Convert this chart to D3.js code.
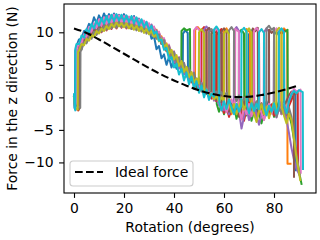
<!DOCTYPE html>
<html>
<head>
<meta charset="utf-8">
<script src="https://cdn.jsdelivr.net/npm/d3@7"></script>
<style>
  body { margin: 0; background: #fff; }
  svg { display: block; font-family: 'DejaVu Sans', sans-serif; }
</style>
</head>
<body>
<svg id="chart" width="320" height="240"></svg>
<script>
// measured trials: [rotation in degrees, force in N]
var trial1 = [[0,0.3],[0.2,-1.6],[0.4,-1.8],[0.5,7.2],[1,7.9],[2,8.9],[3,9.0],[4,10.2],[5,10.3],[6,11.3],[7,10.9],[8,12.3],[9,11.4],[10,12.6],[11,11.8],[12,12.9],[13,12.0],[14,12.8],[15,11.9],[16,12.9],[17,12.1],[18,12.7],[19,11.7],[20,12.8],[21,11.9],[22,12.4],[23,11.5],[24,12.5],[25,11.3],[26,12.1],[27,10.8],[28,11.6],[29,10.2],[30,10.6],[31,9.0],[32,9.4],[33,7.4],[34,7.9],[35,6.0],[36,6.6],[37,5.0],[38,6.2],[39,4.6],[40,5.8],[41,4.4],[42,5.2],[43,4.2],[43.5,4.4],[43.6,9.8],[44.5,10.3],[45.5,9.9],[45.6,3.4],[47,2.8],[48,3.3],[49,2.0],[50,2.2],[51,1.2],[52,1.5],[53,0.6],[54,0.9],[55,0.1],[56,0.4],[56.9,-0.5],[57,9.6],[58,10.2],[59,9.8],[59.1,-1.0],[60,-2.1],[61,-1.2],[62,-2.8],[63,-1.6],[64,-0.8],[65,-2.3],[66,-1.4],[67,-3.0],[68,-1.8],[69,-0.9],[69.9,-1.5],[70,9.7],[71,10.3],[72,9.9],[72.1,-1.2],[73,-2.4],[74,-1.0],[75,-2.9],[76,-1.7],[77,-0.6],[78,-2.0],[79,-1.1],[79.9,-1.9],[80,9.6],[81,10.1],[82,9.5],[82.1,-1.4],[83,-2.5],[84,-1.2],[85,-2.2],[86,-0.8],[87,0.4],[88,1.0],[88.6,0.6],[88.7,-11.2]];
var trial2 = [[0,0.2],[0.3,-1.2],[1.4,-1.7],[1.5,7.0],[2,7.4],[3,8.8],[4,8.6],[5,9.9],[6,9.5],[7,10.8],[8,10.0],[9,11.3],[10,10.4],[11,11.7],[12,10.8],[13,12.0],[14,11.0],[15,12.2],[16,11.2],[17,12.3],[18,11.3],[19,12.4],[20,11.4],[21,12.2],[22,11.1],[23,12.1],[24,11.0],[25,11.9],[26,10.7],[27,11.6],[28,10.5],[29,11.4],[30,10.2],[31,11.1],[32,9.8],[33,10.4],[34,8.9],[35,9.4],[36,7.8],[37,8.3],[38,6.6],[39,7.2],[40,5.5],[41,6.1],[42,4.5],[43,5.4],[44,3.8],[45,4.6],[46,3.0],[47,3.8],[48,2.5],[48.4,2.7],[48.5,10.4],[49.5,10.8],[50.8,10.2],[50.9,1.6],[52,1.0],[53,1.3],[54,0.5],[55,0.8],[56,-0.2],[57,0.3],[58,-0.8],[59,-0.2],[59.9,-1.0],[60,10.1],[61,10.6],[62,9.9],[62.1,-1.5],[63,-2.6],[64,-1.1],[65,-2.0],[66,-0.6],[67,-1.8],[68,-2.9],[68.9,-1.4],[69,10.5],[70.4,10.0],[70.5,-1.2],[71,-2.4],[72,-1.6],[73,-3.2],[74,-2.0],[75,-0.9],[76,-2.2],[77,-1.3],[78,-2.7],[79,-1.5],[80,-0.7],[81,-1.9],[82,-1.0],[82.9,-1.6],[83,10.2],[84,10.6],[85.3,10.0],[85.4,-10.2],[86.6,-10.2]];
var trial3 = [[0,0],[0.4,-1.0],[1.9,-1.9],[2,7.2],[3,7.6],[4,8.9],[5,8.7],[6,10.0],[7,9.5],[8,10.8],[9,9.9],[10,11.2],[11,10.2],[12,11.6],[13,10.6],[14,11.9],[15,10.8],[16,12.1],[17,10.9],[18,12.2],[19,11.0],[20,12.0],[21,10.8],[22,12.1],[23,10.8],[24,11.9],[25,10.6],[26,11.7],[27,10.4],[28,11.5],[29,10.2],[30,11.3],[31,9.9],[32,10.8],[33,9.3],[34,9.9],[35,8.3],[36,8.9],[37,7.2],[38,7.8],[39,6.1],[40,6.8],[41,5.1],[42,5.8],[42.9,4.7],[43,10.2],[44,10.6],[45,10.3],[46.4,10.5],[46.5,3.4],[47,3.0],[48,2.2],[49,2.5],[50,1.4],[51,1.7],[52,0.7],[53,1.0],[54,0.0],[54.9,0.4],[55,9.8],[56,10.3],[57,9.9],[57.1,-1.0],[58,-2.2],[59,-1.0],[60,-2.6],[61,-1.3],[62,-0.5],[63,-2.0],[64,-1.1],[65,-3.3],[65.9,-1.8],[66,9.9],[67,10.4],[68,9.8],[68.1,-1.6],[69,-2.8],[70,-1.4],[71,-3.6],[72,-2.1],[73,-0.9],[74,-2.5],[75,-4.0],[76,-2.2],[77,-1.0],[78,-2.4],[79,-1.2],[80,-3.0],[81,-1.7],[82,-0.6],[83,-1.9],[83.9,-1.2],[84,10.0],[85.4,10.4],[85.5,-1.5],[86,-2.6],[87,-4.1],[88,-6.5],[89,-9.0],[90,-11.4],[91,-13.3]];
var trial4 = [[0,0.1],[0.5,-1.3],[1.7,-2.0],[1.8,7.3],[2,7.8],[3,7.8],[4,9.0],[5,8.6],[6,10.0],[7,9.4],[8,10.7],[9,9.7],[10,11.0],[11,10.0],[12,11.3],[13,10.3],[14,11.6],[15,10.5],[16,11.7],[17,10.6],[18,11.9],[19,10.7],[20,11.8],[21,10.6],[22,11.7],[23,10.5],[24,11.6],[25,10.4],[26,11.5],[27,10.2],[28,11.3],[29,10.0],[30,11.0],[31,9.7],[32,10.6],[33,9.1],[34,9.8],[35,8.2],[36,8.8],[37,7.1],[38,7.7],[39,6.0],[40,6.6],[41,4.9],[42,5.6],[43,4.0],[44,4.7],[45,3.2],[46,3.9],[47,2.3],[48,3.3],[49,1.5],[50,2.5],[50.9,1.3],[51,10.3],[52,10.8],[53,10.2],[53.1,0.5],[54,0.8],[55,-0.2],[56,0.3],[56.9,-0.6],[57,10.6],[58,10.1],[59,10.5],[59.1,-1.3],[60,-2.4],[61,-1.2],[62,-3.0],[63,-1.8],[64,-0.7],[65,-2.1],[66,-1.0],[67,-2.6],[68,-3.6],[69,-1.9],[70,-0.8],[71,-2.3],[71.9,-1.1],[72,10.0],[73,10.5],[74,9.9],[74.1,-1.4],[75,-2.5],[76,-3.4],[77,-1.6],[78,-2.6],[79,-1.1],[80,-2.8],[81,-1.3],[81.9,-2.0],[82,10.2],[83,9.8],[84,10.3],[84.1,-1.6],[85,-2.8],[86,-1.3],[87,-0.4],[88,0.5],[89.5,0.7],[89.6,-11.0]];
var trial5 = [[0,0.4],[0.3,-1.1],[1.1,-1.8],[1.2,7.1],[2,7.4],[3,8.9],[4,8.5],[5,10.0],[6,9.5],[7,11.0],[8,10.0],[9,11.5],[10,10.4],[11,11.9],[12,10.8],[13,12.3],[14,11.1],[15,12.6],[16,11.3],[17,12.7],[18,11.4],[19,12.6],[20,11.3],[21,12.5],[22,11.2],[23,12.4],[24,11.0],[25,12.2],[26,10.8],[27,11.9],[28,10.5],[29,11.6],[30,10.2],[31,11.2],[32,9.7],[33,10.3],[34,8.7],[35,9.2],[36,7.5],[37,8.0],[38,6.4],[39,7.0],[40,5.3],[41,6.0],[42,4.4],[43,5.2],[44,3.5],[45,4.4],[46,2.6],[47,3.6],[48,1.9],[49,2.9],[50,1.1],[51,2.2],[51.9,0.9],[52,10.4],[53,10.9],[54,10.3],[54.1,0.3],[55,0.6],[56,-0.5],[57,0.0],[58,-1.2],[59,-0.4],[60,-2.0],[61,-1.0],[62,-2.6],[63,-1.4],[63.9,-2.2],[64,10.3],[65,10.8],[66,10.2],[66.1,-2.4],[67,-4.8],[68,-3.0],[69,-1.6],[70,-3.5],[71,-2.2],[72,-1.0],[73,-2.7],[74,-4.2],[75,-2.6],[75.9,-1.3],[76,10.0],[77,10.6],[78,10.1],[78.1,-1.2],[79,-2.4],[80,-1.1],[81,-3.1],[82,-1.8],[83,-0.7],[84,-2.0],[85,-3.4],[86,-5.5],[87,-7.8],[88,-9.6],[89,-11.0],[90.3,-12.0]];
var trial6 = [[0,0],[0.5,-1.4],[2.2,-1.7],[2.3,7.0],[3,7.4],[4,8.8],[5,8.5],[6,9.8],[7,9.3],[8,10.5],[9,9.9],[10,11.0],[11,10.4],[12,11.4],[13,10.7],[14,11.8],[15,10.9],[16,12.0],[17,11.0],[18,12.1],[19,11.1],[20,12.0],[21,10.9],[22,11.9],[23,10.8],[24,11.8],[25,10.6],[26,11.6],[27,10.4],[28,11.4],[29,10.1],[30,11.1],[31,9.8],[32,10.7],[33,9.2],[34,9.9],[35,8.3],[36,9.0],[37,7.3],[38,7.9],[39,6.2],[40,6.9],[41,5.2],[42,5.9],[43,4.2],[44,5.0],[45,3.3],[46,4.2],[47,2.4],[48,3.4],[49,1.6],[50,2.7],[51,0.9],[52,1.9],[52.9,0.7],[53,10.2],[54,10.7],[55,10.1],[55.1,0.2],[56,0.5],[57,-0.4],[58,0.1],[58.9,-0.8],[59,10.1],[60,10.6],[61,10.0],[61.1,-1.2],[62,-2.2],[63,-0.9],[64,-2.4],[65,-1.3],[66,-3.0],[67,-1.6],[68,-0.6],[69,-2.0],[70,-1.1],[71,-2.7],[71.4,-1.6],[71.5,10.6],[72.5,10.2],[73.5,10.7],[73.6,-1.5],[74,-2.6],[75,-1.2],[76,-3.1],[77,-1.8],[77.9,-1.0],[78,10.4],[79,9.9],[80,10.3],[80.1,-1.3],[81,-2.4],[82,-1.1],[83,-2.6],[84,-1.4],[85,-0.5],[86,0.3],[87,0.9],[87.9,0.6],[88,-12.2]];
var trial7 = [[0,0.3],[0.4,-1.5],[0.9,-1.9],[1,7.4],[2,8.4],[3,8.3],[4,9.7],[5,9.3],[6,10.8],[7,10.1],[8,11.4],[9,10.7],[10,12.0],[11,11.0],[12,12.3],[13,11.2],[14,12.5],[15,11.4],[16,12.7],[17,11.5],[18,12.6],[19,11.4],[20,12.5],[21,11.3],[22,12.4],[23,11.1],[24,12.3],[25,10.9],[26,12.0],[27,10.7],[28,11.8],[29,10.4],[30,11.4],[31,10.0],[32,10.9],[33,9.4],[34,10.1],[35,8.5],[36,9.1],[37,7.5],[38,8.1],[39,6.3],[40,7.1],[41,5.3],[42,6.2],[43,4.4],[44,5.3],[45,3.5],[46,4.4],[47,2.7],[47.9,3.2],[48,10.3],[49,10.8],[50.4,10.2],[50.5,1.6],[51,1.9],[52,1.0],[53,1.3],[54,0.4],[55,0.7],[55.9,-0.1],[56,10.1],[57,10.6],[58,10.0],[58.1,-0.9],[59,-2.0],[60,-0.7],[61,-2.3],[62,-1.2],[63,-0.3],[64.4,-1.7],[64.5,10.5],[65.9,10.1],[66,-1.8],[67,-3.4],[68,-1.5],[69,-2.6],[70,-1.0],[71,-2.9],[71.9,-1.6],[72,10.2],[73,10.7],[74,10.1],[74.1,-1.4],[75,-2.4],[76,-3.5],[77,-1.8],[78,-1.0],[79,-2.5],[79.9,-1.2],[80,10.1],[81,10.6],[82,10.0],[82.1,-1.3],[83,-2.5],[84,-1.0],[85,-1.9],[86,-0.4],[87,0.6],[88,1.3],[89,0.9],[90.6,1.2],[90.7,-11.6]];
var trial8 = [[0,0.1],[0.6,-1.2],[2.5,-1.6],[2.6,7.1],[3,7.3],[4,8.5],[5,8.3],[6,9.4],[7,9.0],[8,10.1],[9,9.6],[10,10.6],[11,10.1],[12,11.0],[13,10.4],[14,11.3],[15,10.6],[16,11.5],[17,10.7],[18,11.6],[19,10.8],[20,11.6],[21,10.7],[22,11.5],[23,10.5],[24,11.4],[25,10.3],[26,11.2],[27,10.1],[28,10.9],[29,9.8],[30,10.7],[31,9.5],[32,10.3],[33,9.0],[34,9.7],[35,8.2],[36,8.8],[37,7.2],[38,7.9],[39,6.2],[40,7.0],[41,5.3],[42,6.1],[43,4.4],[44,5.3],[45,3.6],[46,4.5],[47,2.8],[48,3.8],[49,2.0],[50,3.1],[51,1.4],[52,2.4],[53,0.9],[53.9,1.3],[54,10.0],[55,10.5],[56,9.9],[56.1,0.6],[57,0.9],[58,0.2],[59,0.8],[60,0.1],[61,0.7],[61.9,0.2],[62,10.3],[63,10.8],[64,10.2],[64.1,0.4],[65,-0.6],[66,0.3],[67,-1.1],[68,0.0],[69,-0.8],[70,0.5],[71,-0.4],[72,-1.5],[73,-0.6],[74,-2.0],[75,-0.9],[76,-2.3],[76.9,-1.0],[77,10.6],[78,11.0],[79,10.4],[80,10.7],[80.1,-1.8],[81,-3.0],[82,-1.5],[83,-2.4],[84,-1.1],[85,-2.7],[86,-1.6],[87,-3.0],[88,-6.0],[89,-8.8],[90.2,-11.8]];
var trial9 = [[0,0],[0.5,-1.6],[1.5,-1.9],[1.6,7.0],[2,7.2],[3,8.2],[4,8.0],[5,9.0],[6,8.7],[7,9.6],[8,9.3],[9,10.2],[10,9.8],[11,10.6],[12,10.2],[13,11.0],[14,10.5],[15,11.3],[16,10.8],[17,11.5],[18,10.9],[19,11.4],[20,10.8],[21,11.4],[22,10.6],[23,11.2],[24,10.4],[25,11.0],[26,10.2],[27,10.8],[28,9.9],[29,10.5],[30,9.7],[31,10.2],[32,9.3],[33,9.7],[34,8.6],[35,9.0],[36,7.7],[37,8.2],[38,6.7],[39,7.3],[40,5.8],[41,6.5],[42,4.8],[43,5.6],[44,3.9],[45,4.7],[46,3.1],[47,3.9],[48,2.3],[49,2.9],[49.9,2.1],[50,10.0],[51,10.5],[52,9.9],[52.1,1.0],[53,1.2],[54,0.3],[55,0.6],[56,-0.3],[57,0.2],[58,-0.7],[59,0.0],[59.9,-0.6],[60,9.8],[61,10.3],[62,9.7],[62.1,-1.0],[63,-2.3],[64,-1.0],[65,-2.6],[66,-1.4],[67,-0.4],[68,-1.9],[68.9,-1.0],[69,10.1],[70,10.6],[71,10.0],[71.1,-1.2],[72,-2.5],[73,-3.8],[74,-2.2],[75,-1.1],[76,-2.6],[77,-1.4],[78,-3.2],[79,-1.8],[80,-0.8],[80.9,-2.0],[81,10.2],[82,10.7],[83,10.1],[83.1,-1.5],[84,-2.8],[85,-4.0],[86,-2.5],[87,-3.5],[88,-6.4],[89,-9.3],[90.5,-12.7]];
var trial10 = [[0,0.5],[0.2,-1.2],[0.5,-2.0],[0.6,7.6],[1,8.2],[2,8.2],[3,9.5],[4,9.2],[5,10.5],[6,10.0],[7,11.3],[8,10.6],[9,11.8],[10,11.0],[11,12.2],[12,11.3],[13,12.5],[14,11.5],[15,12.7],[16,11.7],[17,12.8],[18,11.8],[19,12.7],[20,11.7],[21,12.6],[22,11.6],[23,12.5],[24,11.4],[25,12.3],[26,11.1],[27,12.0],[28,10.8],[29,11.6],[30,10.4],[31,11.0],[32,9.8],[33,10.1],[34,8.7],[35,8.9],[36,7.3],[37,7.6],[38,5.9],[39,6.2],[40,4.6],[41,5.2],[42,3.5],[43,4.4],[44,2.6],[45,3.8],[46,2.0],[47,3.2],[48,1.3],[49,2.5],[50,0.7],[51,1.8],[52,0.0],[53,1.2],[54,-0.4],[55,0.6],[55.9,0.1],[56,10.4],[57,10.9],[58,10.3],[58.1,-0.8],[59,-2.0],[60,-0.6],[61,-1.8],[62,-0.3],[63,-1.5],[64,-2.6],[65,-1.0],[66,-2.2],[66.9,-1.3],[67,10.2],[68,10.7],[69,10.1],[69.1,-1.1],[70,-2.4],[71,-0.9],[72,-2.1],[73,-1.0],[73.9,-1.8],[74,10.0],[75,10.5],[76,9.9],[76.1,-1.6],[77,-2.8],[78,-1.3],[79,-2.2],[80,-0.9],[81,-2.5],[81.9,-1.4],[82,10.1],[83,10.6],[84,10.0],[84.1,-1.3],[85,-2.4],[86,-0.6],[87,0.5],[88,1.0],[89,0.6],[90,1.1],[91.5,0.8],[91.6,-11.0]];

var idealAngles = [0, 5, 10, 15, 20, 25, 30, 35, 40, 45, 50, 55, 60, 65, 70, 75, 80, 85, 90];
var idealForce = [10.6, 9.9, 8.9, 7.8, 6.7, 5.6, 4.5, 3.5, 2.6, 1.8, 1.1, 0.55, 0.2, 0.05, 0.1, 0.35, 0.75, 1.25, 1.85];

var xTicks = [0, 20, 40, 60, 80];
var yTicks = [-10, -5, 0, 5, 10];

var trials = [trial1, trial2, trial3, trial4, trial5, trial6, trial7, trial8, trial9, trial10];
var colors = ['#1f77b4', '#ff7f0e', '#2ca02c', '#d62728', '#9467bd', '#8c564b', '#e377c2', '#7f7f7f', '#bcbd22', '#17becf'];

var margin = { top: 4, right: 4, bottom: 47, left: 64 };
var svg = d3.select('#chart');
var width = +svg.attr('width') - margin.left - margin.right;
var height = +svg.attr('height') - margin.top - margin.bottom;

var x = d3.scaleLinear().domain([-4, 96.8]).range([0, width]);
var y = d3.scaleLinear().domain([-14.7, 14.35]).range([height, 0]);

svg.append('defs').append('clipPath').attr('id', 'plotclip')
   .append('rect').attr('width', width).attr('height', height);

var g = svg.append('g').attr('transform', `translate(${margin.left},${margin.top})`);

var line = d3.line().x(d => x(d[0])).y(d => y(d[1]));

var plot = g.append('g').attr('clip-path', 'url(#plotclip)');
trials.forEach(function(trial, idx) {
  plot.append('path')
      .datum(trial)
      .attr('d', line)
      .attr('fill', 'none')
      .attr('stroke', colors[idx])
      .attr('stroke-width', 2)
      .attr('stroke-linejoin', 'round')
      .attr('stroke-linecap', 'square');
});

var idealData = idealAngles.map((a, i) => [a, idealForce[i]]);
plot.append('path')
    .datum(idealData)
    .attr('d', d3.line().curve(d3.curveMonotoneX).x(d => x(d[0])).y(d => y(d[1])))
    .attr('fill', 'none')
    .attr('stroke', '#000')
    .attr('stroke-width', 2.1)
    .attr('stroke-dasharray', '7.7,3.3');

// axes
var xAxis = g.append('g').attr('transform', `translate(0,${height})`)
             .call(d3.axisBottom(x).tickValues(xTicks).tickSize(4.9).tickPadding(4.9).tickSizeOuter(0));
var yAxis = g.append('g')
             .call(d3.axisLeft(y).tickValues(yTicks).tickSize(4.9).tickPadding(5.5).tickSizeOuter(0).tickFormat(d => d < 0 ? '\u2212' + Math.abs(d) : d));
[xAxis, yAxis].forEach(function(ax) {
  ax.select('.domain').remove();
  ax.selectAll('line').attr('stroke', '#000').attr('stroke-width', 1.1);
  ax.selectAll('text').attr('font-size', 13.9).attr('fill', '#000').attr('font-family', "'DejaVu Sans', sans-serif");
});

g.append('rect')
 .attr('width', width).attr('height', height)
 .attr('fill', 'none').attr('stroke', '#000').attr('stroke-width', 1.1);

svg.append('text')
   .attr('x', margin.left + width / 2)
   .attr('y', 232)
   .attr('text-anchor', 'middle')
   .attr('font-size', 13.9)
   .text('Rotation (degrees)');

svg.append('text')
   .attr('transform', `translate(17,${margin.top + height / 2}) rotate(-90)`)
   .attr('text-anchor', 'middle')
   .attr('font-size', 13.9)
   .text('Force in the z direction (N)');

// legend
var legend = g.append('g').attr('transform', `translate(${70 - margin.left},${161 - margin.top})`);
legend.append('rect')
      .attr('width', 123).attr('height', 25).attr('rx', 3)
      .attr('fill', '#fff').attr('fill-opacity', 0.8)
      .attr('stroke', '#cccccc').attr('stroke-width', 1.1);
legend.append('line')
      .attr('x1', 5).attr('x2', 33).attr('y1', 11).attr('y2', 11)
      .attr('stroke', '#000').attr('stroke-width', 2.1).attr('stroke-dasharray', '7.7,3.3');
legend.append('text')
      .attr('x', 45).attr('y', 16)
      .attr('font-size', 13.9)
      .text('Ideal force');
</script>
</body>
</html>
